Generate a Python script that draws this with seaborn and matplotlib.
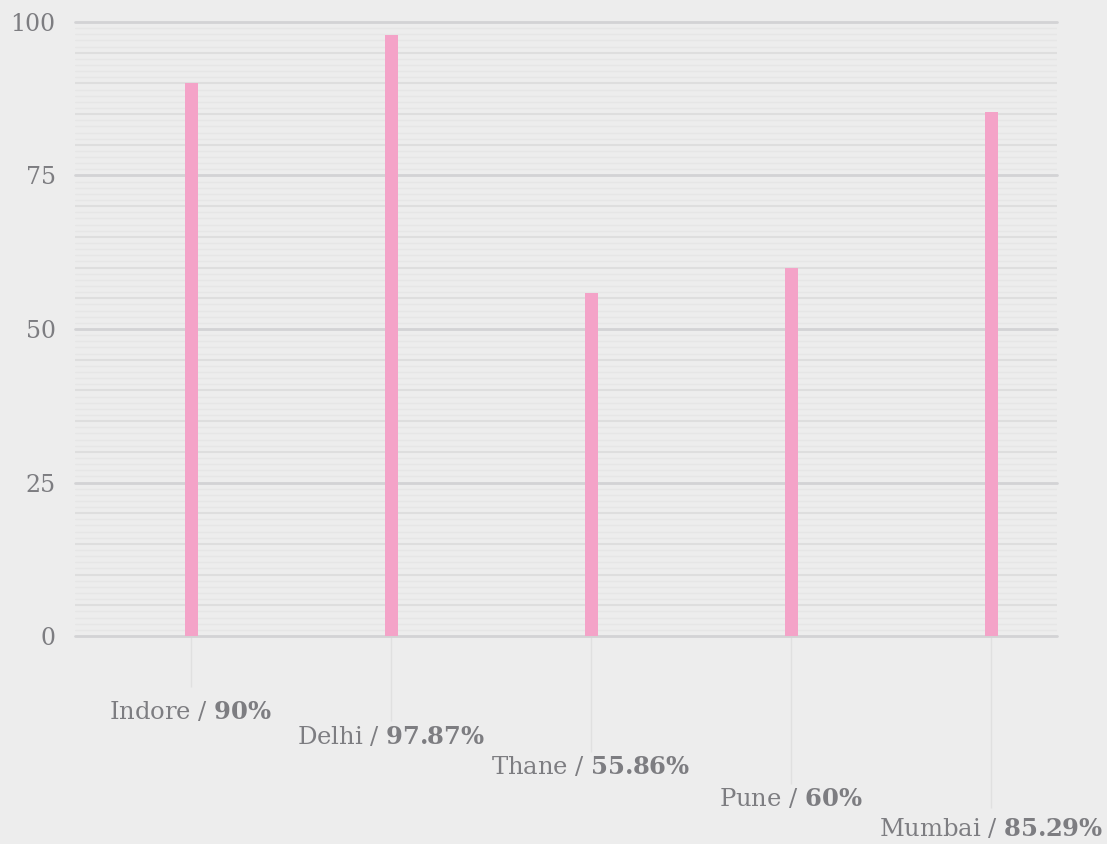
import matplotlib
matplotlib.use("Agg")
import matplotlib.pyplot as plt
import seaborn as sns
from matplotlib.ticker import MultipleLocator, FixedLocator

cities = ["Indore", "Delhi", "Thane", "Pune", "Mumbai"]
values = [90, 97.87, 55.86, 60, 85.29]
value_labels = ["90%", "97.87%", "55.86%", "60%", "85.29%"]
y_ticks = [0, 25, 50, 75, 100]

BG = "#ededed"
PINK = "#f4a3c8"
TEXT = "#7d7d81"

sns.set_theme(style="white")
plt.rcParams["font.family"] = ["DejaVu Serif"]
plt.rcParams["mathtext.fontset"] = "dejavuserif"

fig = plt.figure(figsize=(11.07, 8.44), dpi=100, facecolor=BG)
ax = fig.add_axes([75 / 1107, 1 - 636 / 844, (1057 - 75) / 1107, (636 - 22) / 844])
ax.set_facecolor(BG)

sns.barplot(x=cities, y=values, color=PINK, width=0.065, saturation=1,
            linewidth=0, ax=ax, zorder=3)

ax.set_xlim(-0.58, 4.33)
ax.set_ylim(0, 100)
ax.set_xlabel("")
ax.set_ylabel("")
for s in ax.spines.values():
    s.set_visible(False)

# y axis: major every 25, finer guides every 1 with every 5th a bit stronger
ax.yaxis.set_major_locator(FixedLocator(y_ticks))
ax.yaxis.set_minor_locator(MultipleLocator(1))
ax.tick_params(axis="y", which="both", length=0, pad=14, labelsize=17,
               labelcolor=TEXT)
ax.grid(axis="y", which="major", color="#d3d3d5", linewidth=2, zorder=0)
ax.grid(axis="y", which="minor", color="#e6e6e6", linewidth=1, zorder=0)
ax.grid(axis="x", visible=False)
ax.set_axisbelow(True)

for tick in ax.yaxis.get_major_ticks(len(y_ticks)):
    tick.gridline.set_clip_on(False)

minor_locs = ax.yaxis.get_minorticklocs()
for tick, loc in zip(ax.yaxis.get_minor_ticks(len(minor_locs)), minor_locs):
    if round(loc) % 5 == 0:
        tick.gridline.set_color("#dedede")
        tick.gridline.set_linewidth(1.5)

# x axis: staggered category labels with leader ticks
ax.set_xticks(range(len(cities)))
ax.set_xticklabels([f"{c} / $\\mathbf{{{v.replace('%', chr(92) + '%')}}}$"
                    for c, v in zip(cities, value_labels)])
ax.tick_params(axis="x", bottom=True, length=0, labelsize=17.5,
               labelcolor=TEXT, color="#e0e0e0", width=1)
tick_len = [37, 61, 83.5, 106.5, 124]
label_pad = [46, 64, 86, 109, 130]
for tick, L, p in zip(ax.xaxis.get_major_ticks(), tick_len, label_pad):
    tick.set_pad(p)
    tick.tick1line.set_visible(True)
    tick.tick1line.set_markersize(L)
    tick.tick1line.set_markeredgewidth(1)
    tick.tick1line.set_color("#e0e0e0")

fig.savefig("out.png", dpi=100, facecolor=BG)
